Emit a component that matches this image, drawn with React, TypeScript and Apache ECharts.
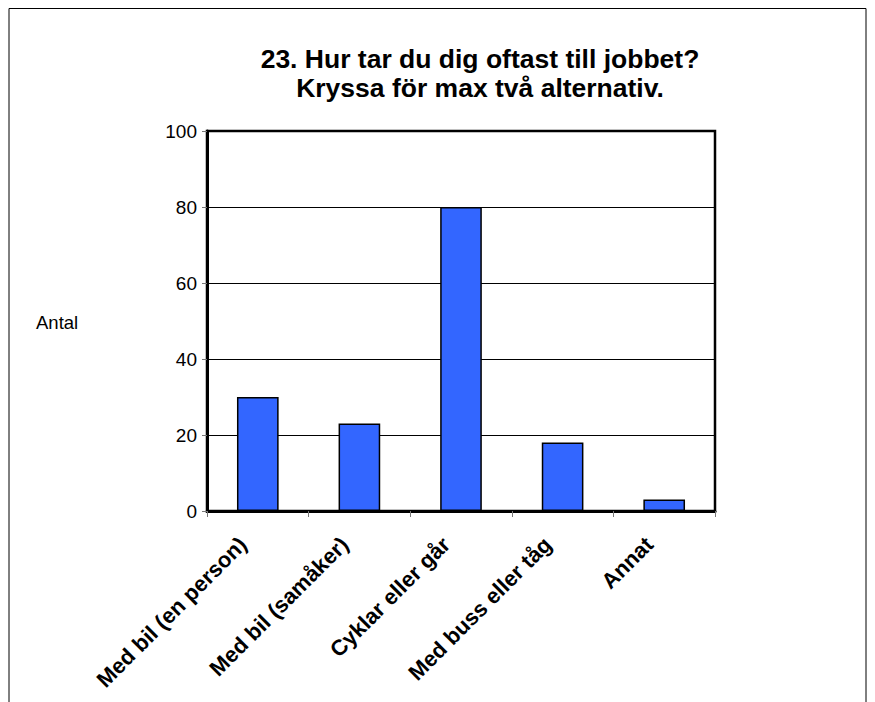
import React, { useEffect, useRef } from "react";
import * as echarts from "echarts";

const categories = [
  "Med bil (en person)",
  "Med bil (samåker)",
  "Cyklar eller går",
  "Med buss eller tåg",
  "Annat",
];
const values = [30, 23, 80, 18, 3];
const titleLines = ["23. Hur tar du dig oftast till jobbet?", "Kryssa för max två alternativ."];
const yAxisName = "Antal";

const FONT = "'Liberation Sans', Arial, sans-serif";

export default function App() {
  const ref = useRef<HTMLDivElement>(null);
  useEffect(() => {
    if (!ref.current) return;
    document.documentElement.style.overflow = "hidden";
    const chart = echarts.init(ref.current, undefined, { renderer: "svg" });
    chart.setOption({
      animation: false,
      backgroundColor: "#fff",
      textStyle: { fontFamily: FONT },
      title: {
        text: titleLines.join("\n"),
        left: 467,
        top: 31,
        textAlign: "center",
        textStyle: {
          fontFamily: FONT,
          fontSize: 26.5,
          fontWeight: "bold",
          color: "#000",
          lineHeight: 29,
        },
      },
      graphic: [
        {
          type: "rect",
          shape: { x: 1, y: 0.5, width: 857, height: 900 },
          style: { fill: "none", stroke: "#000", lineWidth: 1 },
          silent: true,
        },
        {
          type: "text",
          x: 28,
          y: 314,
          style: {
            text: yAxisName,
            fontFamily: FONT,
            fontSize: 18.5,
            fill: "#000",
            verticalAlign: "middle",
          },
        },
      ],
      grid: {
        left: 199,
        top: 123,
        right: 152,
        bottom: 191,
        show: true,
        borderColor: "#000",
        borderWidth: 2.5,
        backgroundColor: "transparent",
        containLabel: false,
        outerBoundsMode: "none",
      },
      xAxis: {
        type: "category",
        data: categories,
        axisLine: { show: true, lineStyle: { color: "#000", width: 3 } },
        axisTick: { show: true, length: 6, lineStyle: { color: "#777", width: 1 } },
        axisLabel: {
          rotate: 45,
          interval: 0,
          margin: 15,
          padding: [0, 21, 0, 0],
          fontFamily: FONT,
          fontSize: 22,
          fontWeight: "bold",
          color: "#000",
        },
      },
      yAxis: {
        type: "value",
        min: 0,
        max: 100,
        interval: 20,
        axisLine: { show: true, lineStyle: { color: "#000", width: 3 } },
        axisTick: { show: true, length: 5, lineStyle: { color: "#777", width: 1 } },
        axisLabel: {
          margin: 10,
          fontFamily: FONT,
          fontSize: 19,
          color: "#000",
        },
        splitLine: { show: true, lineStyle: { color: "#000", width: 1 } },
      },
      series: [
        {
          type: "bar",
          data: values,
          barWidth: "41%",
          itemStyle: { color: "#3366FF", borderColor: "#000", borderWidth: 1.5 },
        },
      ],
    });
    return () => chart.dispose();
  }, []);
  return <div ref={ref} style={{ width: 859, height: 694 }} />;
}
